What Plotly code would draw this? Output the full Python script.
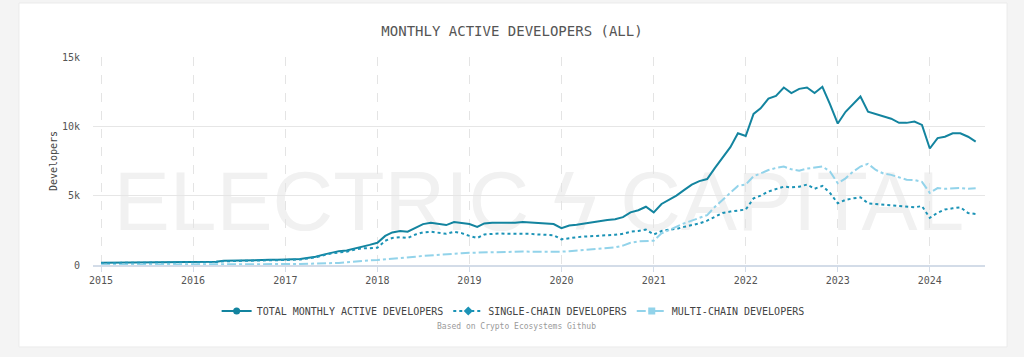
import plotly.graph_objects as go
import pandas as pd

# ---- data (monthly) ----
months = pd.date_range("2015-01-01", "2024-07-01", freq="MS")

total = [
    160, 165, 170, 175, 180, 185, 200, 215, 205, 200, 200, 205,          # 2015
    210, 215, 220, 240, 300, 320, 330, 340, 350, 360, 370, 380,          # 2016
    420, 410, 430, 500, 600, 750, 900, 1000, 1050, 1200, 1350, 1450,     # 2017
    1600, 2100, 2350, 2450, 2400, 2700, 2950, 3050, 2950, 2880, 3100, 3050,  # 2018
    2950, 2750, 3000, 3050, 3050, 3000, 3050, 3100, 3050, 3000, 3000, 2950,  # 2019
    2650, 2850, 2900, 3000, 3050, 3150, 3250, 3300, 3450, 3800, 3950, 4200,  # 2020
    3800, 4400, 4700, 5000, 5400, 5800, 6050, 6200, 7000, 7700, 8500, 9500,  # 2021
    9300, 10900, 11300, 12000, 12200, 12800, 12400, 12700, 12800, 12400, 12850, 11600,  # 2022
    10200, 11050, 11600, 12150, 11050, 10900, 10700, 10550, 10250, 10250, 10350, 10100,  # 2023
    8400, 9150, 9250, 9500, 9500, 9250, 8900,                            # 2024
]
single_chain = [
    140, 145, 150, 155, 160, 165, 175, 190, 185, 180, 180, 185,
    190, 195, 200, 215, 270, 290, 300, 310, 320, 330, 340, 350,
    390, 380, 400, 460, 550, 700, 830, 900, 960, 1100, 1200, 1200,
    1250, 1750, 1950, 2000, 1950, 2200, 2350, 2400, 2300, 2250, 2400, 2300,
    2100, 1950, 2200, 2250, 2280, 2250, 2250, 2280, 2250, 2200, 2180, 2150,
    1850, 1950, 2000, 2050, 2080, 2100, 2150, 2180, 2250, 2400, 2450, 2550,
    2200, 2450, 2550, 2600, 2750, 2850, 3000, 3200, 3500, 3750, 3850, 3950,
    4000, 4800, 5000, 5300, 5450, 5650, 5600, 5650, 5800, 5500, 5700, 5200,
    4450, 4700, 4800, 4880, 4450, 4400, 4350, 4330, 4280, 4200, 4160, 4250,
    3400, 3770, 4000, 4090, 4160, 3750, 3680,
]
multi_chain = [
    20, 20, 25, 25, 25, 30, 30, 30, 35, 35, 35, 40,
    40, 40, 45, 45, 50, 50, 55, 55, 60, 60, 65, 65,
    70, 70, 75, 80, 90, 110, 120, 150, 200, 260, 300, 340,
    360, 400, 450, 520, 560, 600, 650, 700, 720, 760, 800, 850,
    880, 900, 920, 930, 950, 960, 960, 970, 960, 950, 950, 960,
    960, 1000, 1040, 1080, 1100, 1150, 1200, 1270, 1400, 1600, 1700, 1750,
    1750, 2280, 2500, 2800, 3000, 3200, 3370, 3600, 4200, 4700, 5200, 5700,
    5800, 6400, 6600, 6850, 7000, 7100, 6900, 6800, 6950, 7000, 7100, 6750,
    5900, 6250, 6700, 7100, 7300, 6850, 6600, 6500, 6300, 6150, 6130, 6000,
    5200, 5550, 5500, 5530, 5550, 5500, 5530,
]

series_names = ["TOTAL MONTHLY ACTIVE DEVELOPERS", "SINGLE-CHAIN DEVELOPERS", "MULTI-CHAIN DEVELOPERS"]
y_tickvals = [0, 5000, 10000, 15000]
y_ticktext = ["0", "5k", "10k", "15k"]
x_tickvals = [f"{y}-01-01" for y in range(2015, 2025)]
x_ticktext = [str(y) for y in range(2015, 2025)]

TITLE = "MONTHLY ACTIVE DEVELOPERS (ALL)"
Y_TITLE = "Developers"
CAPTION = "Based on Crypto Ecosystems Github"
WATERMARK = "ELECTRIC ϟ CAPITAL"

C_TOTAL = "#13849f"
C_SINGLE = "#1b93b6"
C_MULTI = "#92d3ea"
MONO = "DejaVu Sans Mono"

fig = go.Figure()

styles = [
    (total, C_TOTAL, "solid", "circle", 2),
    (single_chain, C_SINGLE, "dot", "diamond", 2),
    (multi_chain, C_MULTI, "dashdot", "square", 2),
]
for name, (vals, col, dash, sym, w) in zip(series_names, styles):
    fig.add_trace(go.Scatter(x=months, y=vals, mode="lines", name=name,
                             line=dict(color=col, width=w, dash=dash),
                             showlegend=False, hoverinfo="skip"))
for name, (vals, col, dash, sym, w) in zip(series_names, styles):
    fig.add_trace(go.Scatter(x=[None], y=[None], mode="lines+markers", name=name,
                             line=dict(color=col, width=w, dash=dash),
                             marker=dict(symbol=sym, size=7, color=col)))

fig.update_layout(
    width=1024, height=357,
    margin=dict(l=93, r=39, t=57, b=92),
    paper_bgcolor="#f4f4f4",
    plot_bgcolor="rgba(0,0,0,0)",
    title=dict(text=TITLE, x=0.5, xanchor="center", y=1 - 31 / 357, yanchor="middle",
               font=dict(family=MONO, size=14, color="#555555")),
    showlegend=True,
    legend=dict(orientation="h", x=0.471, xanchor="center", y=-0.221, yanchor="middle",
                font=dict(family=MONO, size=10, color="#444444"),
                bgcolor="rgba(0,0,0,0)", itemwidth=30),
    shapes=[
        dict(type="rect", xref="paper", yref="paper", x0=-0.083, x1=1.0247, y0=-0.394, y1=1.2596,
             fillcolor="white", line=dict(color="#ebebeb", width=1), layer="below"),
        dict(type="rect", xref="paper", yref="paper", x0=0.02, x1=0.98, y0=0.12, y1=0.57,
             fillcolor="rgba(0,0,0,0)", line=dict(width=0), layer="below",
             label=dict(text=WATERMARK, textposition="middle center",
                        font=dict(family="Liberation Sans", size=84, color="#f1f1f1"))),
    ],
    annotations=[
        dict(text=CAPTION, xref="paper", yref="paper", x=0.475, y=-0.298, showarrow=False,
             xanchor="center", yanchor="middle",
             font=dict(family=MONO, size=8, color="#9a9a9a")),
    ],
)

fig.update_xaxes(
    type="date", range=["2014-11-30", "2024-08-07"],
    tickvals=x_tickvals, ticktext=x_ticktext,
    showgrid=True, gridcolor="#e4e4e4", griddash="dash", gridwidth=1,
    showline=True, linecolor="#d3dce8", linewidth=1.5,
    ticks="outside", ticklen=5, tickcolor="#d3dce8",
    tickfont=dict(family=MONO, size=10, color="#555555"),
    zeroline=False,
)
fig.update_yaxes(
    range=[0, 15000], tickvals=y_tickvals, ticktext=y_ticktext,
    showgrid=True, gridcolor="#e6e6e6", gridwidth=1,
    zeroline=False, showline=False, ticks="",
    ticklabelstandoff=12,
    tickfont=dict(family=MONO, size=10, color="#555555"),
    title=dict(text=Y_TITLE, standoff=2, font=dict(family=MONO, size=10, color="#444444")),
)

fig.write_html("out.html", config={"displayModeBar": False},
               post_script="document.body.style.margin='0';")
